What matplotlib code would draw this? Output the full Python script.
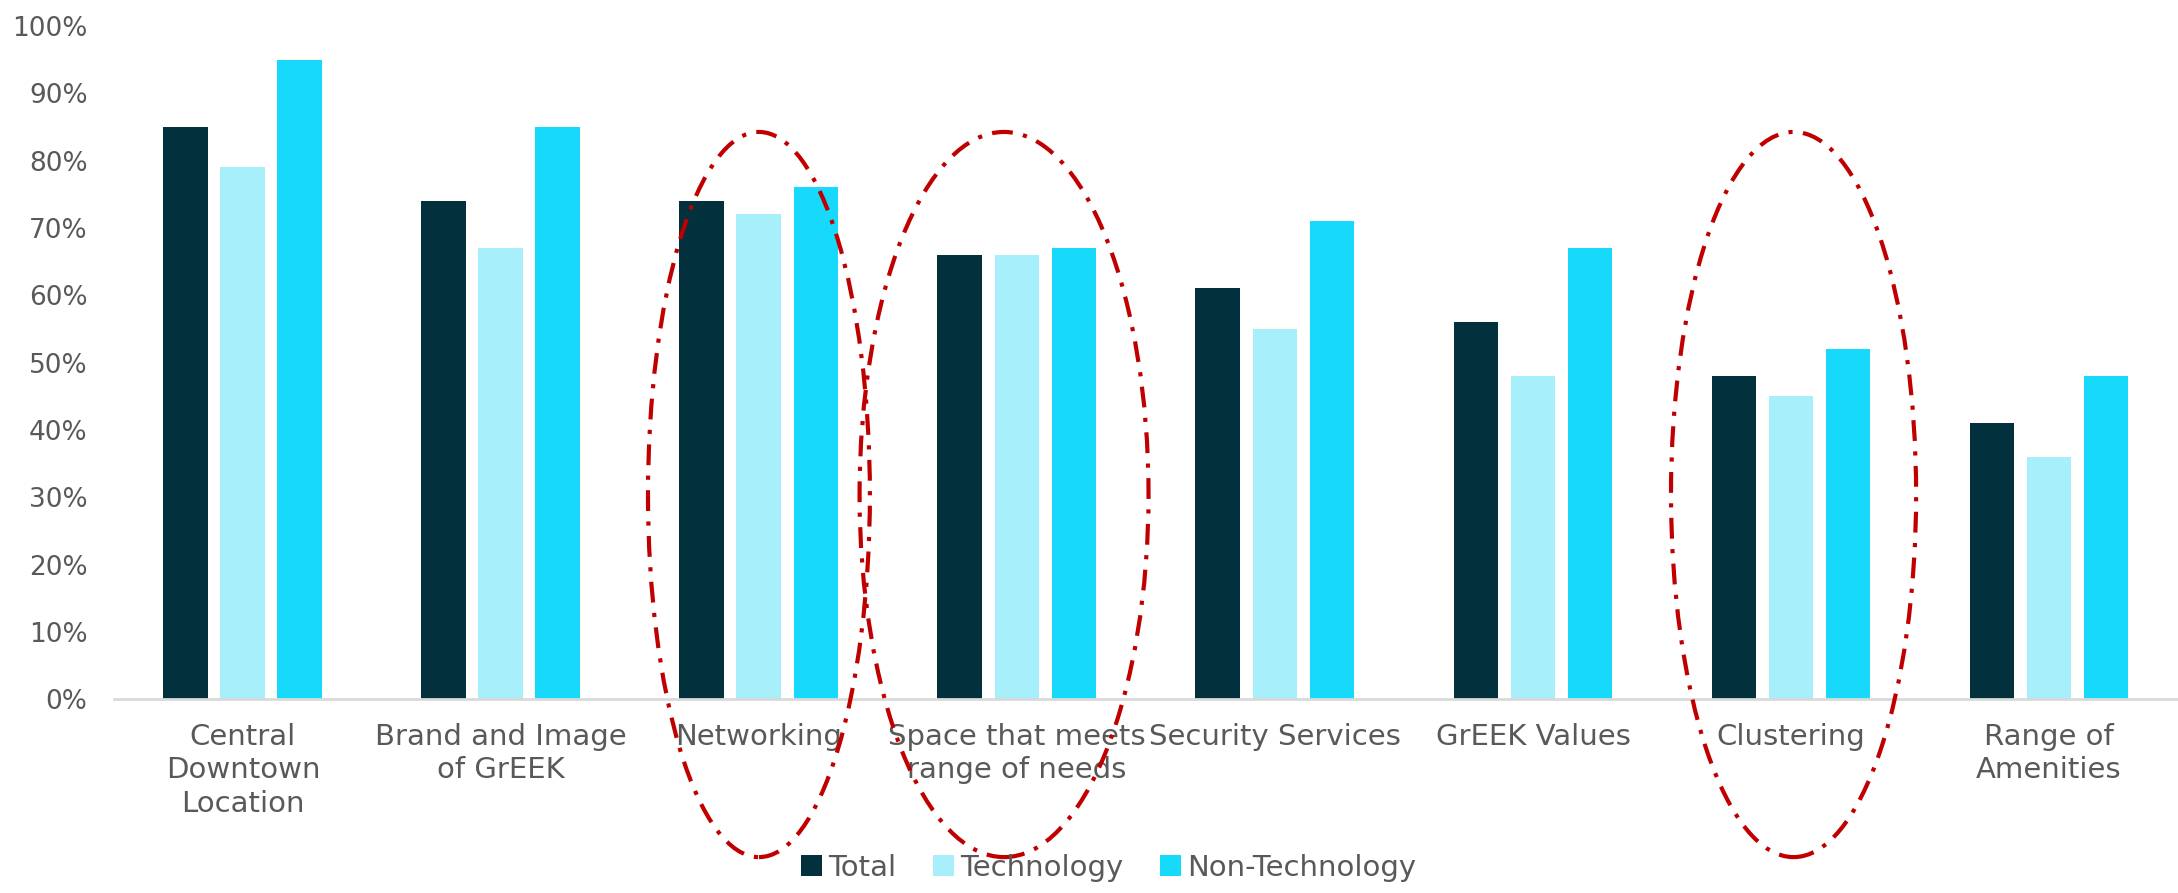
import numpy as np
import matplotlib
matplotlib.use("Agg")
import matplotlib.pyplot as plt
import matplotlib.patches as patches

categories = ["Central\nDowntown\nLocation", "Brand and Image\nof GrEEK", "Networking",
              "Space that meets\nrange of needs", "Security Services", "GrEEK Values",
              "Clustering", "Range of\nAmenities"]
total = [85, 74, 74, 66, 61, 56, 48, 41]
technology = [79, 67, 72, 66, 55, 48, 45, 36]
non_technology = [95, 85, 76, 67, 71, 67, 52, 48]
series_names = ["Total", "Technology", "Non-Technology"]
colors = ["#02303C", "#A7F0FB", "#17D9FB"]

# highlighted groups: (center index, width in category units)
highlights = [(2.0, 0.86), (2.95, 1.12), (6.01, 0.95)]

text_color = "#595959"
plt.rcParams["font.family"] = ["DejaVu Sans"]

fig = plt.figure(figsize=(21.78, 8.93), dpi=100)
ax = fig.add_axes([0.0523, 0.217, 0.9477, 0.754])

x = np.arange(len(categories))
bw = 0.174
step = 0.221
for i, (vals, name, c) in enumerate(zip([total, technology, non_technology], series_names, colors)):
    ax.bar(x + (i - 1) * step, vals, width=bw, color=c, label=name, zorder=2)

ax.set_xlim(-0.5, len(categories) - 0.5)
ax.set_ylim(0, 100)
ax.set_yticks(np.arange(0, 101, 10))
ax.set_yticklabels([f"{v}%" for v in range(0, 101, 10)], fontsize=19, color=text_color)
ax.set_xticks(x)
ax.set_xticklabels(categories, fontsize=21, color=text_color, linespacing=1.25)
ax.tick_params(axis="both", length=0)
ax.tick_params(axis="y", pad=19)
ax.tick_params(axis="x", pad=17)

for s in ["top", "right", "left"]:
    ax.spines[s].set_visible(False)
ax.spines["bottom"].set_color("#D9D9D9")
ax.spines["bottom"].set_linewidth(2)

for cx, w in highlights:
    e = patches.Ellipse((cx, 30.4), w, 107.7, fill=False, edgecolor="#C00000",
                        linewidth=3, linestyle=(0, (5, 2.5, 1, 2.5)), clip_on=False, zorder=5)
    ax.add_patch(e)

leg = fig.legend(loc="center", bbox_to_anchor=(0.509, 0.028), ncol=3, frameon=False,
                 fontsize=21, handlelength=0.72, handleheight=0.72, handletextpad=0.2,
                 columnspacing=1.27)
for t in leg.get_texts():
    t.set_color(text_color)

fig.savefig("out.png", dpi=100)
